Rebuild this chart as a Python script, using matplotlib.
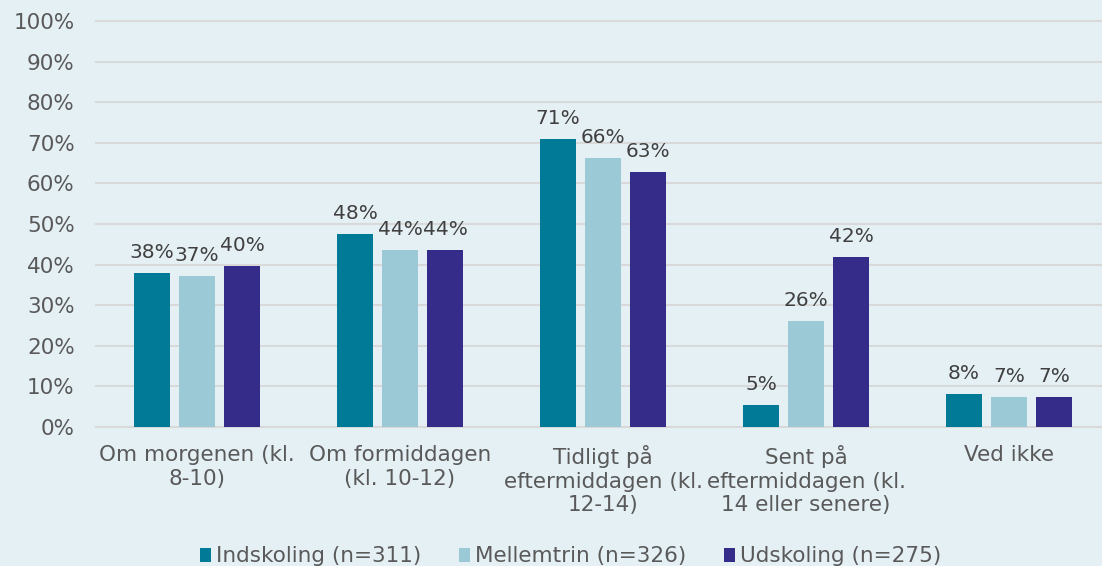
import matplotlib
matplotlib.use("Agg")
import matplotlib.pyplot as plt
import numpy as np

categories = [
    "Om morgenen (kl.\n8-10)",
    "Om formiddagen\n(kl. 10-12)",
    "Tidligt på\neftermiddagen (kl.\n12-14)",
    "Sent på\neftermiddagen (kl.\n14 eller senere)",
    "Ved ikke",
]
series_names = ["Indskoling (n=311)", "Mellemtrin (n=326)", "Udskoling (n=275)"]
indskoling = [38.0, 47.6, 71.0, 5.4, 8.1]
mellemtrin = [37.2, 43.6, 66.3, 26.1, 7.4]
udskoling = [39.7, 43.6, 62.9, 41.9, 7.3]
yticks = [0, 10, 20, 30, 40, 50, 60, 70, 80, 90, 100]

colors = ["#007A96", "#9BCAD6", "#352C8A"]
bg = "#E5F0F5"
text_col = "#595959"
fs = 15.5

plt.rcParams["font.family"] = ["DejaVu Sans"]

fig = plt.figure(figsize=(11.02, 5.66), dpi=100, facecolor=bg)
ax = fig.add_axes([0.0867, 0.2456, 0.921, 0.7173], facecolor=bg)

x = np.arange(len(categories))
width = 0.177
step = 0.222
for i, (vals, name) in enumerate(zip([indskoling, mellemtrin, udskoling], series_names)):
    pos = x + (i - 1) * step
    bars = ax.bar(pos, vals, width=width, color=colors[i], label=name, zorder=3)
    for rect, v in zip(bars, vals):
        ax.annotate(f"{v:.0f}%", (rect.get_x() + rect.get_width() / 2, v),
                    xytext=(0, 8), textcoords="offset points",
                    ha="center", va="bottom", fontsize=14.5, color="#404040")

ax.set_xlim(-0.5, len(categories) - 0.5)
ax.set_ylim(0, 100)
ax.set_yticks(yticks)
ax.set_yticklabels([f"{t}%" for t in yticks])
ax.set_xticks(x)
ax.set_xticklabels(categories, linespacing=1.22)
ax.tick_params(axis="y", length=0, pad=15, labelsize=fs, labelcolor=text_col)
ax.tick_params(axis="x", length=0, pad=13, labelsize=fs, labelcolor=text_col)
ax.grid(axis="y", color="#D9D9D9", linewidth=1.5, zorder=0)
for line in ax.get_ygridlines():
    line.set_clip_on(False)
for s in ax.spines.values():
    s.set_visible(False)

fig.legend(loc="center", bbox_to_anchor=(0.518, 0.017), ncol=3, frameon=False,
           fontsize=fs, labelcolor=text_col, handlelength=0.5, handleheight=0.6,
           handletextpad=0.25, columnspacing=1.75)

fig.savefig("out.png", dpi=100, facecolor=bg)
